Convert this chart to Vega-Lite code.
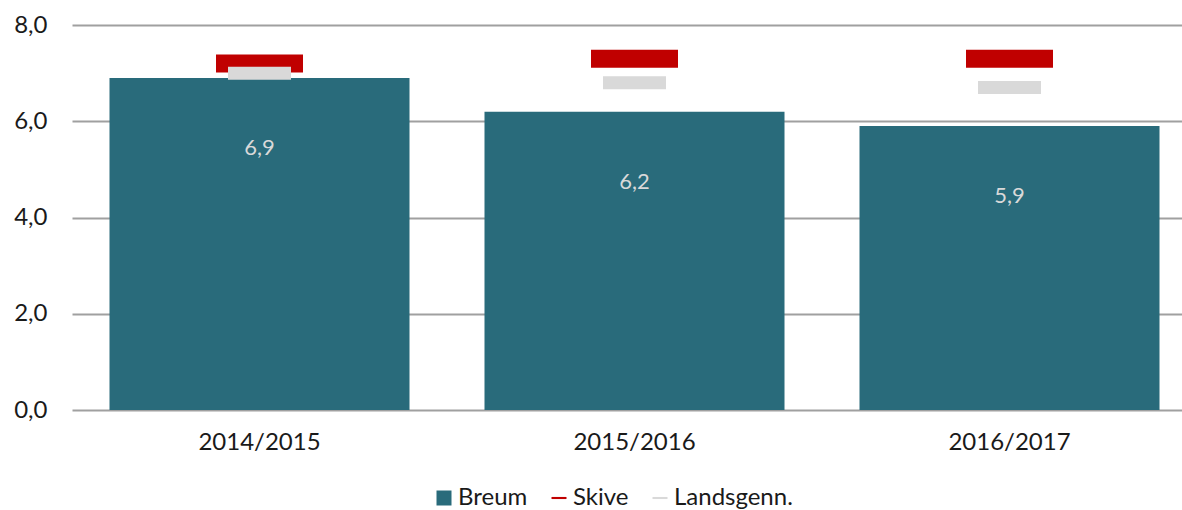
{
  "$schema": "https://vega.github.io/schema/vega-lite/v6.json",
  "width": 1125,
  "height": 385,
  "autosize": "none",
  "padding": {"left": 72, "top": 25, "right": 0, "bottom": 100},
  "background": "white",
  "config": {
    "locale": {"number": {"decimal": ",", "thousands": ".", "grouping": [3], "currency": ["", " kr."]}},
    "view": {"stroke": null},
    "font": "Lato",
    "axis": {"labelFont": "Lato", "labelColor": "#1a1a1a", "labelFontSize": 24, "domain": false, "ticks": false, "title": null}
  },
  "data": {"values": [
    {"year": "2014/2015", "breum": 6.9, "skive": 7.2, "lands": 7.0},
    {"year": "2015/2016", "breum": 6.2, "skive": 7.3, "lands": 6.8},
    {"year": "2016/2017", "breum": 5.9, "skive": 7.3, "lands": 6.7}
  ]},
  "encoding": {
    "x": {"field": "year", "type": "nominal", "sort": null,
      "scale": {"paddingInner": 0.2, "paddingOuter": 0.1},
      "axis": {"labelAngle": 0, "labelPadding": 20, "grid": false}}
  },
  "layer": [
    {
      "mark": {"type": "bar", "color": "#296b7b"},
      "encoding": {
        "y": {"field": "breum", "type": "quantitative",
          "scale": {"domain": [0, 8]},
          "axis": {"values": [0, 2, 4, 6, 8], "format": ".1f", "labelPadding": 25, "grid": true, "gridColor": "#a0a0a0", "gridWidth": 2}}
      }
    },
    {
      "mark": {"type": "tick", "color": "#c00000", "size": 87, "thickness": 18, "opacity": 1},
      "encoding": {"y": {"field": "skive", "type": "quantitative"}}
    },
    {
      "mark": {"type": "tick", "color": "#d9d9d9", "size": 63, "thickness": 13, "opacity": 1},
      "encoding": {"y": {"field": "lands", "type": "quantitative"}}
    },
    {
      "mark": {"type": "text", "color": "#d9d9d9", "fontSize": 22, "baseline": "middle", "dy": 70, "font": "Lato"},
      "encoding": {
        "y": {"field": "breum", "type": "quantitative"},
        "text": {"field": "breum", "type": "quantitative", "format": ".1f"}
      }
    },
    {
      "data": {"values": [{"series": "Breum"}, {"series": "Skive"}, {"series": "Landsgenn."}]},
      "mark": {"type": "point", "filled": true, "opacity": 0},
      "encoding": {
        "x": null,
        "color": {"field": "series", "type": "nominal",
          "scale": {"domain": ["Breum", "Skive", "Landsgenn."], "range": ["#296b7b", "#c00000", "#d9d9d9"]},
          "legend": {"title": null, "orient": "none", "direction": "horizontal", "legendX": 360, "legendY": 461,
            "symbolOpacity": 1, "symbolSize": 225, "labelFontSize": 24, "labelFont": "Lato", "labelColor": "#1a1a1a",
            "labelOffset": 2, "columnPadding": 19, "symbolStrokeWidth": 0}},
        "shape": {"field": "series", "type": "nominal",
          "scale": {"domain": ["Breum", "Skive", "Landsgenn."], "range": ["square", "M-1,-0.14H1V0.14H-1Z", "M-1,-0.14H1V0.14H-1Z"]},
          "legend": {"title": null, "orient": "none", "direction": "horizontal", "legendX": 360, "legendY": 461,
            "symbolOpacity": 1, "symbolSize": 225, "labelFontSize": 24, "labelFont": "Lato", "labelColor": "#1a1a1a",
            "labelOffset": 2, "columnPadding": 19, "symbolStrokeWidth": 0}}
      }
    }
  ]
}
